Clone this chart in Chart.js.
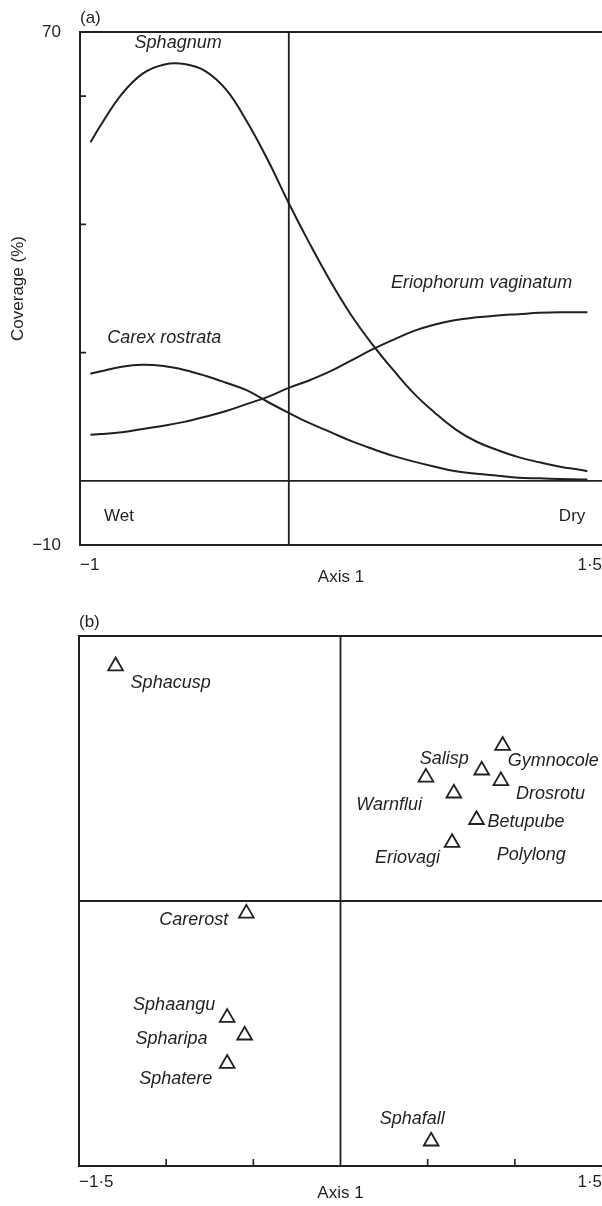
<!DOCTYPE html>
<html>
<head>
<meta charset="utf-8">
<script src="https://cdn.jsdelivr.net/npm/chart.js@4.4.1/dist/chart.umd.min.js"></script>
<style>
  html, body { margin: 0; padding: 0; background: #fff; overflow: hidden; }
  .panel { position: relative; width: 602px; }
  #panelA { height: 600px; }
  #panelB { height: 606px; }
</style>
</head>
<body>
<div class="panel" id="panelA"><canvas id="chartA"></canvas></div>
<div class="panel" id="panelB"><canvas id="chartB"></canvas></div>
<script>
// ---------- (a) response curves along axis 1 ----------
const axisPositionsA = [-0.95, -0.9, -0.8, -0.7, -0.6, -0.5, -0.4, -0.3, -0.2, -0.1, 0, 0.1, 0.2,
                        0.3, 0.4, 0.5, 0.6, 0.7, 0.8, 0.9, 1.0, 1.1, 1.2, 1.3, 1.4, 1.43];
const sphagnum = [52.8, 55.5, 60.3, 63.5, 64.9, 65.0, 63.9, 61.0, 56.0, 50.0, 43.3, 37.0, 31.1,
                  25.8, 21.3, 17.3, 13.6, 10.6, 8.0, 6.1, 4.8, 3.7, 2.9, 2.2, 1.7, 1.5];
const eriophorum = [7.2, 7.3, 7.6, 8.1, 8.6, 9.2, 10.0, 10.9, 12.0, 13.1, 14.5, 15.7, 17.1,
                    18.8, 20.5, 22.0, 23.4, 24.4, 25.1, 25.5, 25.8, 26.0, 26.2, 26.3, 26.3, 26.3];
const carex = [16.7, 17.1, 17.8, 18.1, 17.9, 17.3, 16.4, 15.3, 14.1, 12.3, 10.6, 9.0, 7.6,
               6.2, 5.0, 3.9, 3.0, 2.2, 1.5, 1.1, 0.8, 0.5, 0.4, 0.3, 0.2, 0.2];
const xTickLabelsA = [-1, 1.5];
const yTickLabelsA = [-10, 70];
const yTickMarksA = [20, 40, 60];

// ---------- (b) species scores ----------
const species = ['Sphacusp', 'Carerost', 'Sphaangu', 'Spharipa', 'Sphatere', 'Sphafall',
                 'Gymnocole', 'Salisp', 'Drosrotu', 'Warnflui', 'Polylong', 'Betupube', 'Eriovagi'];
const axis1Scores = [-1.29, -0.54, -0.65, -0.55, -0.65, 0.52, 0.93, 0.81, 0.92, 0.49, 0.65, 0.78, 0.64];
const axis2Scores = [1.33, -0.07, -0.66, -0.76, -0.92, -1.36, 0.88, 0.74, 0.68, 0.70, 0.61, 0.46, 0.33];
const xTickLabelsB = [-1.5, 1.5];
const xTickMarksB = [-1, -0.5, 0.5, 1];

// label placement next to each triangle: [dx, dy, textAlign] in pixels
const speciesLabelLayout = [
  [15, 17, 'left'], [-18, 7, 'right'], [-12, -13, 'right'], [-37, 4, 'right'],
  [-15, 15, 'right'], [-19, -22, 'center'], [5, 15, 'left'], [-13, -11, 'right'],
  [15, 13, 'left'], [-4, 28, 'right'], [43, 62, 'left'], [11, 2, 'left'], [-12, 15, 'right']
];

// curve names and gradient ends inside panel (a), placed in data units
const curveNotes = [
  { text: 'Sphagnum', x: -0.53, y: 68.3, align: 'center', italic: true },
  { text: 'Carex rostrata', x: -0.87, y: 22.3, align: 'left', italic: true },
  { text: 'Eriophorum vaginatum', x: 0.49, y: 30.9, align: 'left', italic: true },
  { text: 'Wet', x: -0.885, y: -5.6, align: 'left', italic: false },
  { text: 'Dry', x: 1.42, y: -5.6, align: 'right', italic: false }
];

const INK = '#231f20';
const FAMILY = '"Liberation Sans", Arial, Helvetica, sans-serif';
const tickFont = { family: FAMILY, size: 17 };

function fmt(v) {
  const s = String(Math.abs(v)).replace('.', '\u00B7');
  return (v < 0 ? '\u2212' : '') + s;
}

// keep the plotting frame flush with the right edge of the page
function flushHorizontal(height) {
  return s => { s.height = height; s.paddingLeft = 0; s.paddingRight = 0; };
}

function drawPanelLines(chart, tickMarks) {
  const { ctx, chartArea: a, scales } = chart;
  ctx.save();
  ctx.strokeStyle = INK;
  ctx.lineWidth = 2;
  ctx.lineCap = 'butt';
  // frame: top, left, bottom (right side runs off the page)
  ctx.beginPath();
  ctx.moveTo(a.right + 4, a.top);
  ctx.lineTo(a.left, a.top);
  ctx.lineTo(a.left, a.bottom);
  ctx.lineTo(a.right + 4, a.bottom);
  ctx.stroke();
  // zero reference lines
  const x0 = scales.x.getPixelForValue(0);
  const y0 = scales.y.getPixelForValue(0);
  ctx.lineWidth = 1.8;
  ctx.beginPath();
  ctx.moveTo(x0, a.top); ctx.lineTo(x0, a.bottom);
  ctx.moveTo(a.left, y0); ctx.lineTo(a.right + 4, y0);
  ctx.stroke();
  // inward tick marks
  ctx.lineWidth = 1.6;
  ctx.beginPath();
  tickMarks(ctx, a, scales);
  ctx.stroke();
  ctx.restore();
}

function drawPanelTag(chart, tag) {
  const { ctx, chartArea: a } = chart;
  ctx.save();
  ctx.fillStyle = INK;
  ctx.font = '17px ' + FAMILY;
  ctx.textAlign = 'left';
  ctx.textBaseline = 'middle';
  ctx.fillText(tag, a.left, a.top - 14);
  ctx.restore();
}

const panelAPlugin = {
  id: 'panelADecor',
  beforeDatasetsDraw(chart) {
    drawPanelLines(chart, (ctx, a, scales) => {
      yTickMarksA.forEach(v => {
        const y = scales.y.getPixelForValue(v);
        ctx.moveTo(a.left, y); ctx.lineTo(a.left + 6, y);
      });
    });
  },
  afterDatasetsDraw(chart) {
    const { ctx, scales } = chart;
    drawPanelTag(chart, '(a)');
    ctx.save();
    ctx.fillStyle = INK;
    ctx.textBaseline = 'middle';
    curveNotes.forEach(n => {
      ctx.font = (n.italic ? 'italic 18px ' : '17px ') + FAMILY;
      ctx.textAlign = n.align;
      ctx.fillText(n.text, scales.x.getPixelForValue(n.x), scales.y.getPixelForValue(n.y));
    });
    ctx.restore();
  }
};

const panelBPlugin = {
  id: 'panelBDecor',
  beforeDatasetsDraw(chart) {
    drawPanelLines(chart, (ctx, a, scales) => {
      xTickMarksB.forEach(v => {
        const x = scales.x.getPixelForValue(v);
        ctx.moveTo(x, a.bottom); ctx.lineTo(x, a.bottom - 7);
      });
    });
  },
  afterDatasetsDraw(chart) {
    const { ctx } = chart;
    drawPanelTag(chart, '(b)');
    const meta = chart.getDatasetMeta(0);
    ctx.save();
    ctx.fillStyle = INK;
    ctx.font = 'italic 18px ' + FAMILY;
    ctx.textBaseline = 'middle';
    meta.data.forEach((pt, i) => {
      const [dx, dy, align] = speciesLabelLayout[i];
      ctx.textAlign = align;
      ctx.fillText(species[i], pt.x + dx, pt.y + dy);
    });
    ctx.restore();
  }
};

const curveStyle = {
  borderColor: INK,
  borderWidth: 2,
  pointRadius: 0,
  fill: false,
  tension: 0.4
};

function pairs(xs, ys) { return xs.map((x, i) => ({ x, y: ys[i] })); }

new Chart(document.getElementById('chartA'), {
  type: 'line',
  data: {
    datasets: [
      { label: 'Sphagnum', data: pairs(axisPositionsA, sphagnum), ...curveStyle },
      { label: 'Eriophorum vaginatum', data: pairs(axisPositionsA, eriophorum), ...curveStyle },
      { label: 'Carex rostrata', data: pairs(axisPositionsA, carex), ...curveStyle }
    ]
  },
  options: {
    responsive: true,
    maintainAspectRatio: false,
    animation: false,
    events: [],
    layout: { autoPadding: false, padding: { top: 32, right: 0, bottom: 0, left: 0 } },
    plugins: { legend: { display: false }, tooltip: { enabled: false } },
    scales: {
      x: {
        type: 'linear', min: -1, max: 1.5,
        afterBuildTicks: s => { s.ticks = xTickLabelsA.map(v => ({ value: v })); },
        afterFit: flushHorizontal(55),
        grid: { display: false, drawTicks: false },
        border: { display: false },
        ticks: { align: 'inner', padding: 10, maxRotation: 0, autoSkip: false,
                 font: tickFont, color: INK, callback: v => fmt(v) },
        title: { display: true, text: 'Axis 1', font: tickFont, color: INK,
                 padding: { top: 0, bottom: 12 } }
      },
      y: {
        type: 'linear', min: -10, max: 70,
        afterBuildTicks: s => { s.ticks = yTickLabelsA.map(v => ({ value: v })); },
        afterFit: s => { s.width = 80; },
        grid: { display: false, drawTicks: false },
        border: { display: false },
        ticks: { padding: 19, font: tickFont, color: INK, autoSkip: false, callback: v => fmt(v) },
        title: { display: true, text: 'Coverage (%)', font: tickFont, color: INK,
                 padding: { top: 8, bottom: 0 } }
      }
    }
  },
  plugins: [panelAPlugin]
});

new Chart(document.getElementById('chartB'), {
  type: 'scatter',
  data: {
    datasets: [{
      label: 'Species',
      data: pairs(axis1Scores, axis2Scores),
      pointStyle: 'triangle',
      pointRadius: 8.5,
      pointBorderWidth: 1.8,
      pointBorderColor: INK,
      pointBackgroundColor: 'rgba(255,255,255,0)'
    }]
  },
  options: {
    responsive: true,
    maintainAspectRatio: false,
    animation: false,
    events: [],
    layout: { autoPadding: false, padding: { top: 36, right: 0, bottom: 0, left: 79 } },
    plugins: { legend: { display: false }, tooltip: { enabled: false } },
    scales: {
      x: {
        type: 'linear', min: -1.5, max: 1.5,
        afterBuildTicks: s => { s.ticks = xTickLabelsB.map(v => ({ value: v })); },
        afterFit: flushHorizontal(40),
        grid: { display: false, drawTicks: false },
        border: { display: false },
        ticks: { align: 'inner', padding: 6, maxRotation: 0, autoSkip: false,
                 font: tickFont, color: INK, callback: v => fmt(v) },
        title: { display: true, text: 'Axis 1', font: tickFont, color: INK,
                 padding: { top: 0, bottom: 2 } }
      },
      y: { type: 'linear', min: -1.5, max: 1.5, display: false }
    }
  },
  plugins: [panelBPlugin]
});
</script>
</body>
</html>
